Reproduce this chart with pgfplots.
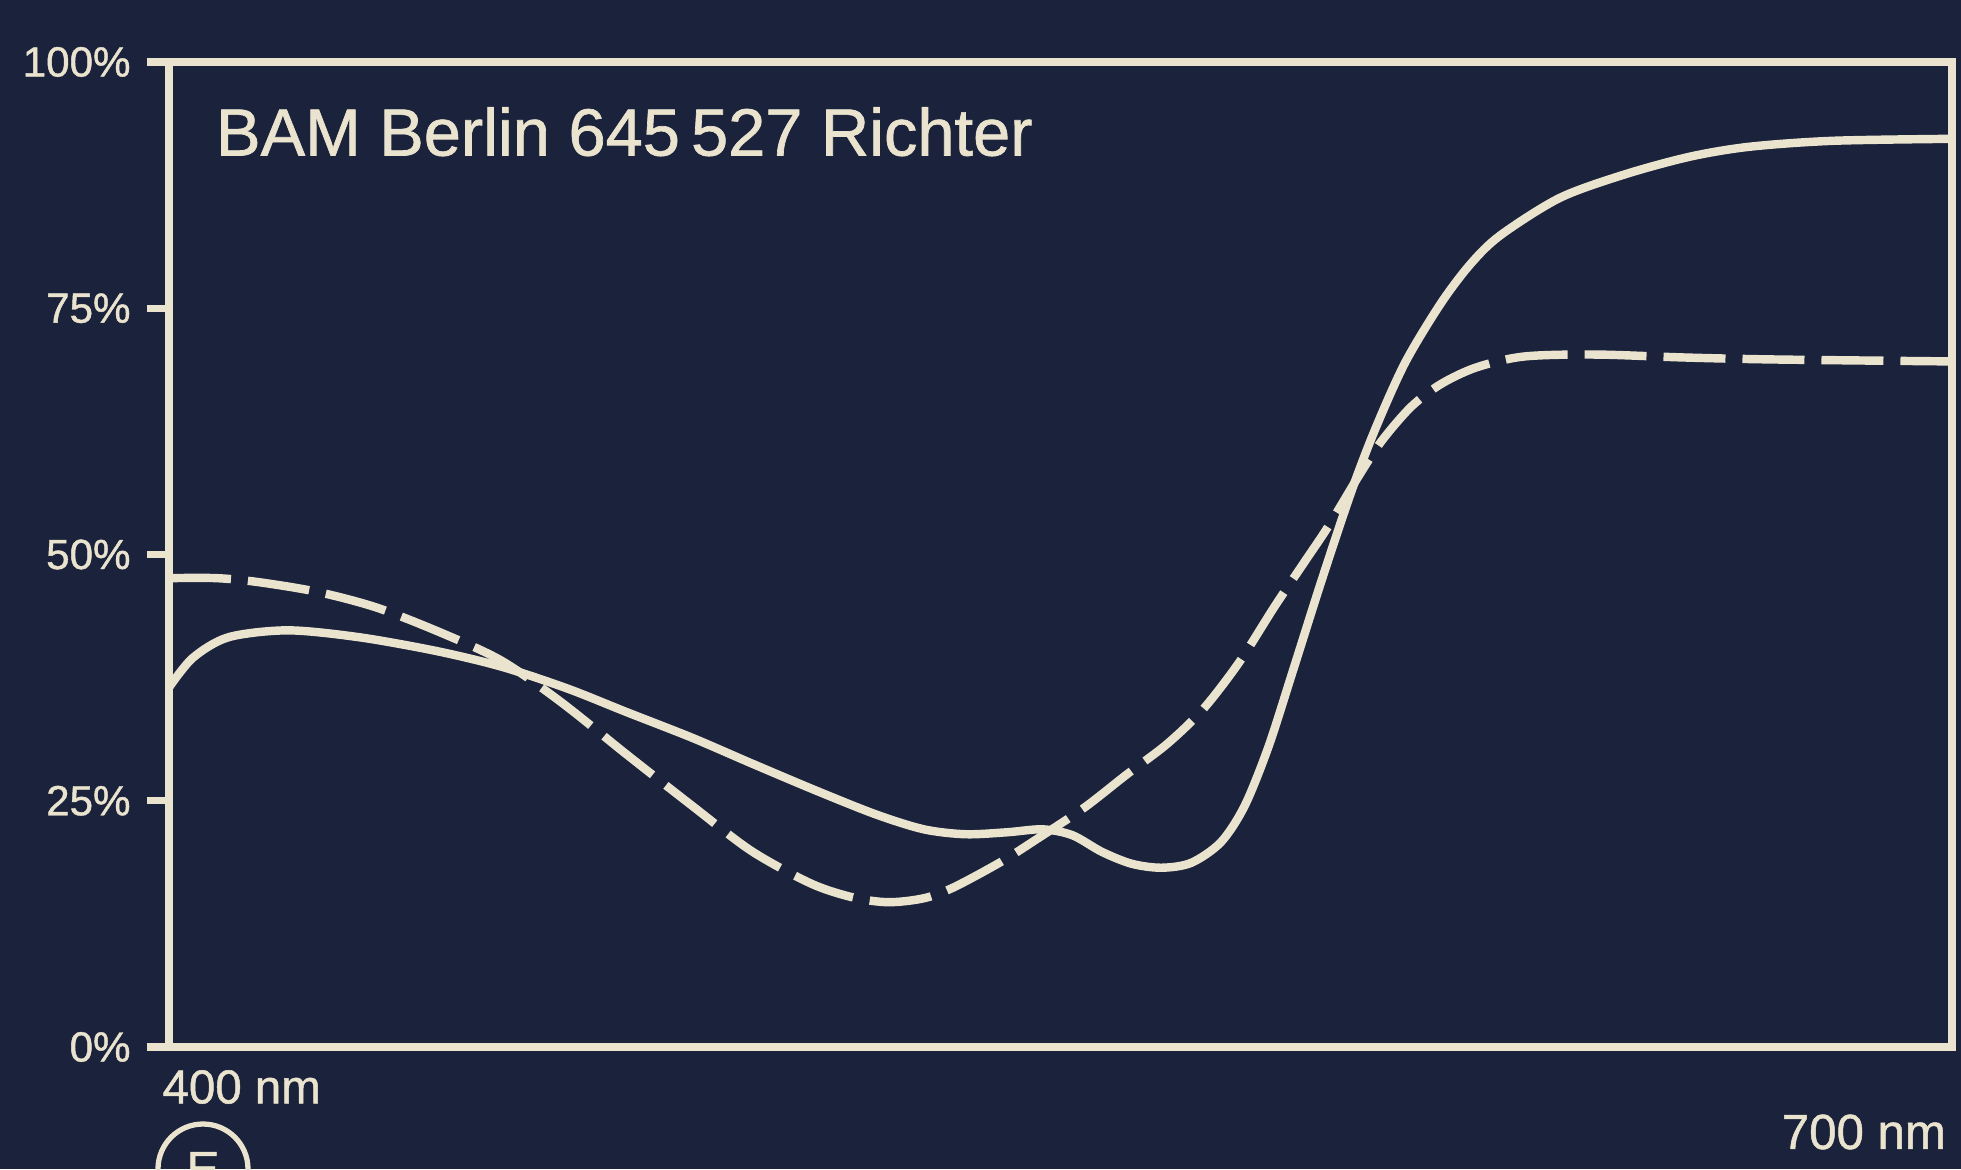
\documentclass[border=0pt]{standalone}
\usepackage{pgfplots}
\pgfplotsset{compat=1.18}
\usepackage{fontspec}
\setmainfont{Liberation Sans}
\newfontfamily\semibold[FakeBold=1.0]{Liberation Sans}
\definecolor{bgnavy}{RGB}{27,34,60}
\definecolor{cream}{RGB}{234,228,206}
\pgfplotstableread{
nm pct
400 36.5
404 39.5
410 41.6
420 42.3
432 41.6
445 40.2
456 38.6
467 36.4
477 34.0
488 31.4
498 28.8
509 26.0
519 23.6
527 22.1
534 21.6
541 21.8
547 22.1
552 21.5
557 19.8
562 18.6
567 18.2
572 18.7
577 20.8
581 24.5
585 30.5
589 38.0
594 47.5
599 56.5
603 62.8
608 69.5
614 75.5
619 79.5
624 82.4
634 86.2
645 88.6
656 90.4
666 91.4
680 92.0
700 92.2
}\solid
\pgfplotstableread{
nm pct
400 47.6
408 47.6
415 47.2
425 46.2
435 44.6
446 42.0
456 39.2
466 35.0
477 29.7
488 24.5
498 19.9
508 16.6
515 15.2
521 14.7
527 15.1
532 16.2
540 18.8
546 21.1
554 24.3
561 27.6
568 30.8
574 34.3
580 39.0
586 44.7
591 49.2
595 52.8
600 57.8
604 61.5
609 65.0
614 67.3
620 69.0
628 70.1
640 70.3
655 70.0
670 69.8
700 69.6
}\dashed
\begin{document}
\begin{tikzpicture}
\fill[bgnavy] (-1.69cm,-1.22cm) rectangle (17.92cm,10.47cm);
\path[use as bounding box] (-1.69cm,-1.22cm) rectangle (17.92cm,10.47cm);
\begin{axis}[
  at={(0,0)}, anchor=south west,
  width=17.83cm, height=9.85cm, scale only axis,
  xmin=400, xmax=700, ymin=0, ymax=100,
  clip=false,
  axis line style={cream, line width=2.5pt},
  xtick=\empty,
  ytick={0,25,50,75,100},
  yticklabels={0\%,25\%,50\%,75\%,100\%},
  ytick pos=left,
  tick align=outside,
  major tick length=0.22cm,
  every tick/.style={cream, line width=2pt},
  /pgf/number format/assume math mode=true,
  yticklabel style={text=cream, font=\semibold\fontsize{12}{14}\selectfont, xshift=-0.04cm},
]
\addplot[cream, line width=2.4pt, smooth, tension=0.5] table[x=nm,y=pct] {\solid};
\addplot[cream, line width=2.4pt, smooth, tension=0.5, dash pattern=on 6.2mm off 1.7mm] table[x=nm,y=pct] {\dashed};
\node[anchor=base west, text=cream, font=\semibold\fontsize{19}{22}\selectfont, inner sep=0pt]
  at (rel axis cs:0.026,0.905) {BAM Berlin 645\,527 Richter};
\node[anchor=west, text=cream, font=\semibold\fontsize{13.5}{16}\selectfont, inner sep=0pt]
  at (rel axis cs:-0.004,0) [yshift=-0.4cm] {400 nm};
\node[anchor=east, text=cream, font=\semibold\fontsize{14}{16}\selectfont, inner sep=0pt]
  at (rel axis cs:0.997,0) [yshift=-0.85cm] {700 nm};
\node[circle, draw=cream, line width=1.5pt, text=cream, minimum size=0.9cm, inner sep=0pt,
  font=\semibold\fontsize{14}{16}\selectfont]
  at (rel axis cs:0,0) [xshift=0.34cm, yshift=-1.22cm] {E};
\end{axis}
\end{tikzpicture}
\end{document}
